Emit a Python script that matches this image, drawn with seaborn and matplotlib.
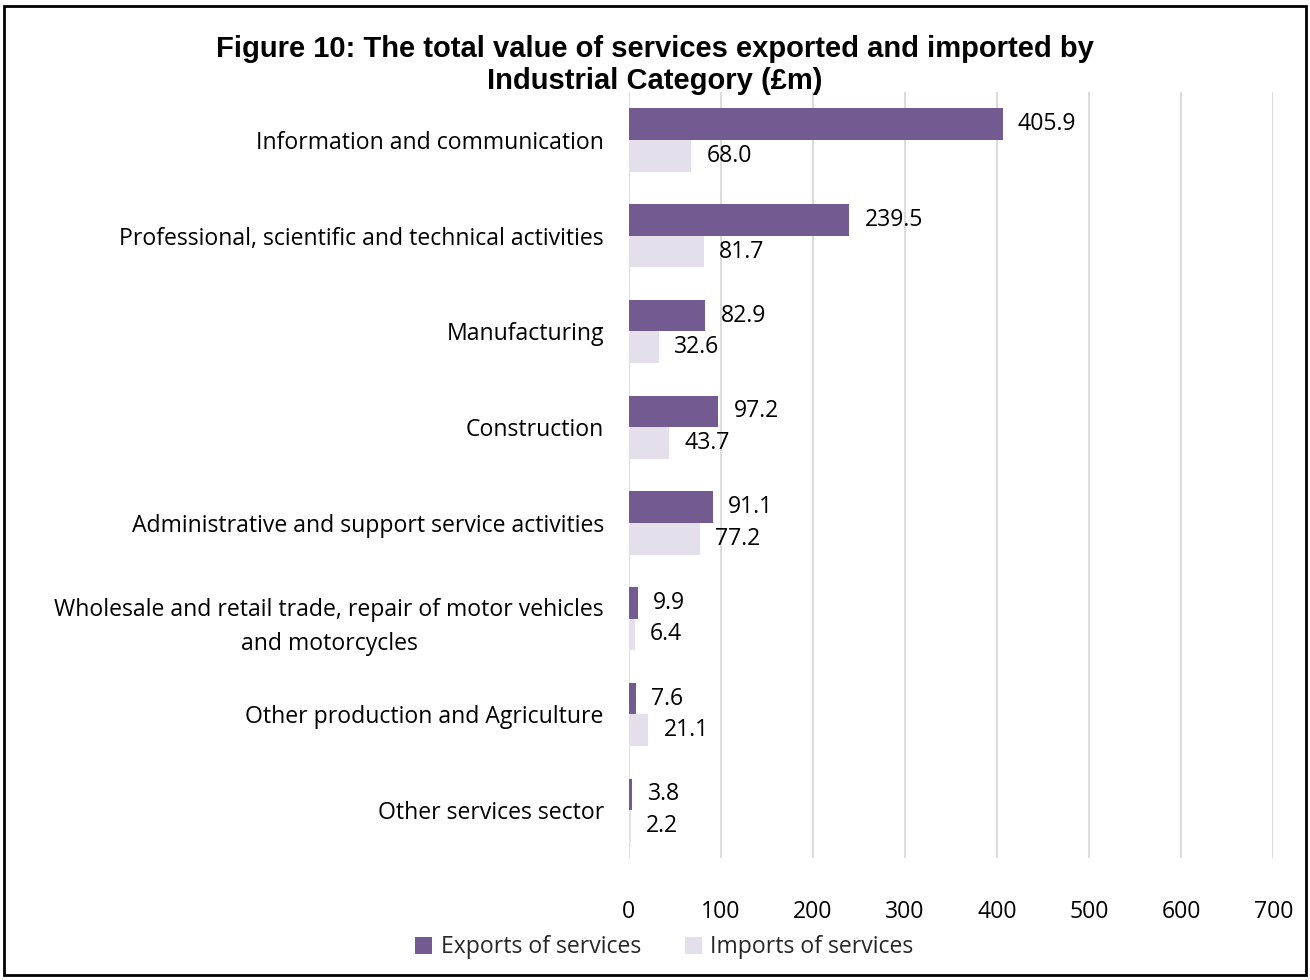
import matplotlib
matplotlib.use("Agg")
import matplotlib.pyplot as plt
from matplotlib.patches import Rectangle
import seaborn as sns
import pandas as pd

categories = [
    "Information and communication",
    "Professional, scientific and technical activities",
    "Manufacturing",
    "Construction",
    "Administrative and support service activities",
    "Wholesale and retail trade, repair of motor vehicles\nand motorcycles",
    "Other production and Agriculture",
    "Other services sector",
]
exports = [405.9, 239.5, 82.9, 97.2, 91.1, 9.9, 7.6, 3.8]
imports = [68.0, 81.7, 32.6, 43.7, 77.2, 6.4, 21.1, 2.2]
series_names = ["Exports of services", "Imports of services"]
x_ticks = [0, 100, 200, 300, 400, 500, 600, 700]

df = pd.DataFrame({
    "Category": categories * 2,
    "Value": exports + imports,
    "Series": [series_names[0]] * len(categories) + [series_names[1]] * len(categories),
})

sns.set_theme(style="white")
plt.rcParams["font.family"] = ["Open Sans", "DejaVu Sans"]

FS = 16.6

fig = plt.figure(figsize=(13.1, 9.8), dpi=100)
ax = fig.add_axes([0.480, 0.1245, 0.492, 0.7815])

palette = {series_names[0]: "#735A90", series_names[1]: "#E5DFEC"}
sns.barplot(data=df, y="Category", x="Value", hue="Series", order=categories,
            hue_order=series_names, palette=palette, orient="h", width=0.66,
            saturation=1, linewidth=0, ax=ax, legend=True)

ax.set_xlim(0, 700)
ax.set_xticks(x_ticks)
ax.set_xlabel("")
ax.set_ylabel("")
ax.grid(axis="x", color="#D9D9D9", linewidth=1.3)
ax.set_axisbelow(True)
for s in ["top", "right", "bottom", "left"]:
    ax.spines[s].set_visible(False)
ax.tick_params(axis="both", length=0, labelsize=FS, colors="black")
ax.tick_params(axis="x", pad=30)
ax.tick_params(axis="y", pad=18)
for lbl in ax.get_yticklabels():
    lbl.set_multialignment("center")
    lbl.set_linespacing(1.55)

for container in ax.containers:
    ax.bar_label(container, fmt="%.1f", padding=11, fontsize=FS, color="black")

handles, labels = ax.get_legend_handles_labels()
ax.get_legend().remove()
fig.legend(handles, labels, loc="lower center", bbox_to_anchor=(0.507, 0.0),
           ncol=2, frameon=False, fontsize=FS, handlelength=0.75, handleheight=0.75,
           handletextpad=0.35, columnspacing=1.9)

fig.suptitle("Figure 10: The total value of services exported and imported by\nIndustrial Category (£m)",
             x=0.5, y=0.964, fontsize=21, fontweight="bold", family="Liberation Sans",
             color="black", linespacing=1.15)

fig.patches.append(Rectangle((0.003, 0.005), 0.994, 0.989, transform=fig.transFigure,
                             fill=False, edgecolor="black", linewidth=2))

fig.savefig("out.png", dpi=100)
